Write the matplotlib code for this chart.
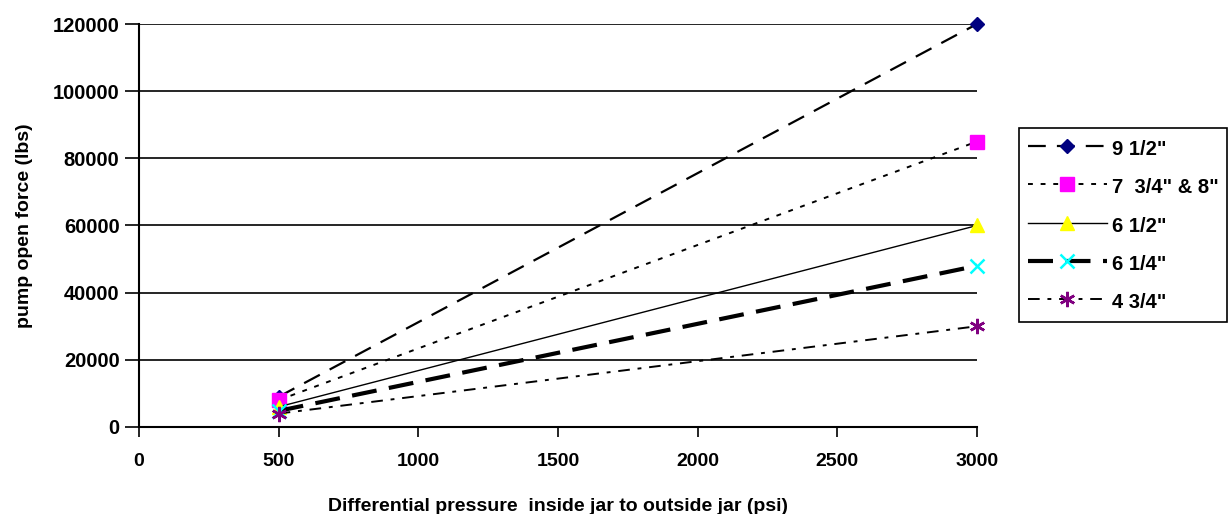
import numpy as np
import matplotlib
matplotlib.use('Agg')
import matplotlib.pyplot as plt

plt.rcParams['font.family'] = ['Liberation Sans', 'DejaVu Sans']
plt.rcParams['font.weight'] = 'bold'

# pump open force at two differential pressures
pressure = [500, 3000]
sizes = ['9 1/2"', '7  3/4" & 8"', '6 1/2"', '6 1/4"', '4 3/4"']
force_9_50 = [9000, 120000]
force_7_75 = [8000, 85000]
force_6_50 = [6000, 60000]
force_6_25 = [4800, 48000]
force_4_75 = [4000, 30000]

x_ticks = [0, 500, 1000, 1500, 2000, 2500, 3000]
y_ticks = [0, 20000, 40000, 60000, 80000, 100000, 120000]

fig = plt.figure(figsize=(12.31, 5.14), dpi=100)
ax = fig.add_axes([0.1129, 0.1693, 0.6808, 0.784])

ax.plot(pressure, force_9_50, color='black', lw=1.6, dashes=(8, 5), clip_on=False,
        marker='D', ms=7, mfc='#000080', mec='#000080', label=sizes[0])
ax.plot(pressure, force_7_75, color='black', lw=1.4, dashes=(2.5, 4), clip_on=False,
        marker='s', ms=10, mfc='#ff00ff', mec='#ff00ff', label=sizes[1])
ax.plot(pressure, force_6_50, color='black', lw=1.0, clip_on=False,
        marker='^', ms=10, mfc='#ffff00', mec='#ffff00', label=sizes[2])
ax.plot(pressure, force_6_25, color='black', lw=3.0, dashes=(6, 3), clip_on=False,
        marker='x', ms=10, mew=1.8, mec='#00ffff', label=sizes[3])
ax.plot(pressure, force_4_75, color='black', lw=1.4, dashes=(6, 4, 2, 4), clip_on=False,
        marker=(6, 2, 0), ms=11, mew=1.8, mec='#800080', label=sizes[4])

ax.set_xlim(0, 3000)
ax.set_ylim(0, 120000)
ax.set_xticks(x_ticks)
ax.set_yticks(y_ticks)
ax.tick_params(axis='both', width=1.2, direction='out')
ax.tick_params(axis='x', labelsize=14, length=7, pad=12)
ax.tick_params(axis='y', labelsize=14.5, length=10, pad=4)
ax.grid(axis='y', color='black', lw=1.2)
ax.set_axisbelow(True)
for s in ['top', 'right']:
    ax.spines[s].set_visible(False)
for s in ['left', 'bottom']:
    ax.spines[s].set_linewidth(1.5)

ax.set_xlabel('Differential pressure  inside jar to outside jar (psi)',
              fontsize=14, fontweight='bold', labelpad=20)
ax.set_ylabel('pump open force (lbs)', fontsize=14, fontweight='bold', labelpad=14)

leg = ax.legend(loc='upper left', bbox_to_anchor=(0.8278, 0.751),
                bbox_transform=fig.transFigure, borderaxespad=0, borderpad=0.45,
                fontsize=14.5, handlelength=3.9, handleheight=1.35,
                handletextpad=0.25, labelspacing=0.78,
                fancybox=False, edgecolor='black', framealpha=1)
leg.get_frame().set_linewidth(1.2)

fig.savefig('out.png', dpi=100)
